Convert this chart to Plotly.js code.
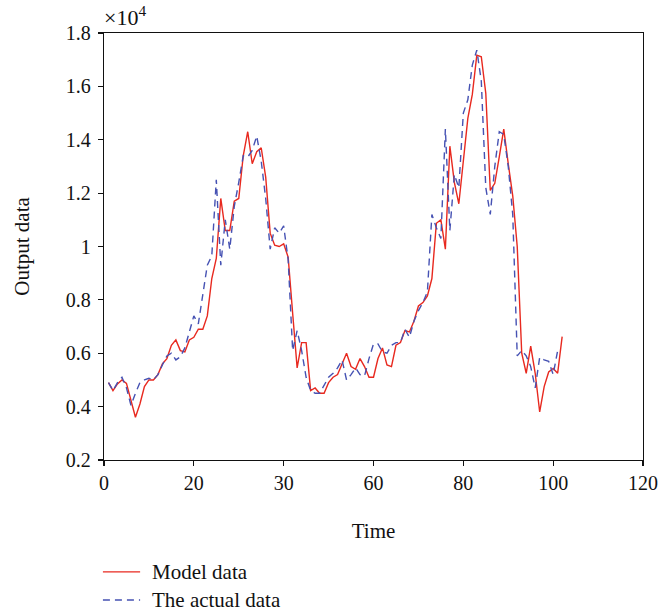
<!DOCTYPE html>
<html>
<head>
<meta charset="utf-8">
<script src="https://cdn.plot.ly/plotly-3.0.1.min.js"></script>
<style>html,body{margin:0;padding:0;background:#fff;}#chart{width:659px;height:614px;}</style>
</head>
<body>
<div id="chart"></div>
<script>
// Time index
var timeModel = [];
for (var i = 1; i <= 102; i++) timeModel.push(i);
var timeActual = [];
for (var j = 1; j <= 101; j++) timeActual.push(j);

// Model data (x 10^4)
var modelData = [
  0.49, 0.46, 0.485, 0.50, 0.487, 0.42, 0.36, 0.41, 0.475, 0.50,
  0.50, 0.52, 0.56, 0.58, 0.63, 0.65, 0.61, 0.605, 0.65, 0.66,
  0.69, 0.69, 0.74, 0.88, 0.955, 1.18, 1.06, 1.06, 1.17, 1.18,
  1.34, 1.43, 1.31, 1.355, 1.37, 1.26, 1.05, 1.005, 1.00, 1.01,
  0.96, 0.75, 0.545, 0.64, 0.64, 0.46, 0.47, 0.45, 0.45, 0.49,
  0.51, 0.52, 0.56, 0.60, 0.55, 0.54, 0.58, 0.55, 0.51, 0.51,
  0.58, 0.62, 0.556, 0.55, 0.63, 0.64, 0.685, 0.68, 0.72, 0.777,
  0.79, 0.815, 0.88, 1.087, 1.10, 0.99, 1.376, 1.24, 1.16, 1.32,
  1.48, 1.57, 1.717, 1.711, 1.574, 1.21, 1.237, 1.336, 1.44, 1.31,
  1.19, 1.0, 0.60, 0.525, 0.627, 0.525, 0.38, 0.475, 0.53, 0.543,
  0.525, 0.662
];

// The actual data (x 10^4)
var actualData = [
  0.49, 0.46, 0.49, 0.51, 0.47, 0.405, 0.45, 0.49, 0.50, 0.506,
  0.50, 0.52, 0.556, 0.59, 0.60, 0.575, 0.587, 0.62, 0.68, 0.74,
  0.71, 0.82, 0.93, 0.965, 1.25, 0.93, 1.10, 0.99, 1.15, 1.24,
  1.34, 1.335, 1.36, 1.414, 1.32, 1.18, 0.99, 1.07, 1.05, 1.077,
  0.95, 0.61, 0.685, 0.61, 0.51, 0.46, 0.45, 0.45, 0.48, 0.51,
  0.525, 0.545, 0.575, 0.50, 0.52, 0.545, 0.52, 0.515, 0.58, 0.635,
  0.635, 0.605, 0.60, 0.63, 0.64, 0.64, 0.69, 0.66, 0.72, 0.76,
  0.79, 0.83, 1.12, 1.07, 1.03, 1.44, 1.06, 1.27, 1.22, 1.50,
  1.55, 1.68, 1.736, 1.62, 1.22, 1.12, 1.30, 1.43, 1.42, 1.30,
  1.12, 0.59, 0.61, 0.59, 0.55, 0.47, 0.585, 0.575, 0.57, 0.52,
  0.61
];

var xTickVals = [0, 20, 40, 60, 80, 100, 120];
var xTickText = ['0', '20', '30', '60', '80', '100', '120'];
var yTickVals = [0.2, 0.4, 0.6, 0.8, 1.0, 1.2, 1.4, 1.6, 1.8];
var yTickText = ['0.2', '0.4', '0.6', '0.8', '1', '1.2', '1.4', '1.6', '1.8'];
var seriesNames = ['Model data', 'The actual data'];
var seriesColors = ['#e8291f', '#4652b3'];

var serif = 'Liberation Serif, Times New Roman, serif';

var traces = [
  {
    x: timeModel, y: modelData, type: 'scatter', mode: 'lines',
    name: seriesNames[0],
    line: {color: seriesColors[0], width: 1.4}
  },
  {
    x: timeActual, y: actualData, type: 'scatter', mode: 'lines',
    name: seriesNames[1],
    line: {color: seriesColors[1], width: 1.4, dash: '7px,5px'}
  }
];

// legend drawn below the plot (paper coordinates)
var legY = [-0.262, -0.328];
var legendShapes = [
  {type: 'line', xref: 'paper', yref: 'paper', x0: -0.002, x1: 0.067, y0: legY[0], y1: legY[0],
   line: {color: seriesColors[0], width: 1.4}},
  {type: 'line', xref: 'paper', yref: 'paper', x0: -0.002, x1: 0.067, y0: legY[1], y1: legY[1],
   line: {color: seriesColors[1], width: 1.4, dash: '7px,5px'}}
];
var legendNotes = seriesNames.map(function (n, k) {
  return {xref: 'paper', yref: 'paper', x: 0.085, y: legY[k], xanchor: 'left', yanchor: 'middle',
          text: n, showarrow: false, font: {family: serif, size: 21, color: '#111'}};
});

var layout = {
  width: 659, height: 614,
  margin: {l: 104, r: 16, t: 33, b: 154},
  paper_bgcolor: '#fff', plot_bgcolor: '#fff',
  font: {family: serif, size: 20, color: '#111'},
  showlegend: false,
  xaxis: {
    range: [0, 120], tickvals: xTickVals, ticktext: xTickText,
    showgrid: false, zeroline: false, showline: true, mirror: true,
    linecolor: '#111', linewidth: 1.3, ticks: 'outside', ticklen: 5,
    tickcolor: '#111', tickwidth: 1.2, automargin: false,
    tickfont: {family: serif, size: 20},
    title: {text: 'Time', font: {family: serif, size: 21}, standoff: 30}
  },
  yaxis: {
    range: [0.2, 1.8], tickvals: yTickVals, ticktext: yTickText,
    showgrid: false, zeroline: false, showline: true, mirror: true,
    linecolor: '#111', linewidth: 1.3, ticks: 'outside', ticklen: 5,
    tickcolor: '#111', tickwidth: 1.2, automargin: false,
    tickfont: {family: serif, size: 20}, ticklabelstandoff: 3,
    title: {text: 'Output data', font: {family: serif, size: 21}, standoff: 30}
  },
  shapes: legendShapes,
  annotations: [
    {
      xref: 'paper', yref: 'paper', x: -0.004, y: 1.0, xanchor: 'left', yanchor: 'bottom',
      yshift: 1,
      text: '×10<sup>4</sup>', showarrow: false,
      font: {family: serif, size: 22, color: '#111'}
    }
  ].concat(legendNotes)
};

Plotly.newPlot('chart', traces, layout, {displayModeBar: false, staticPlot: true});
</script>
</body>
</html>
